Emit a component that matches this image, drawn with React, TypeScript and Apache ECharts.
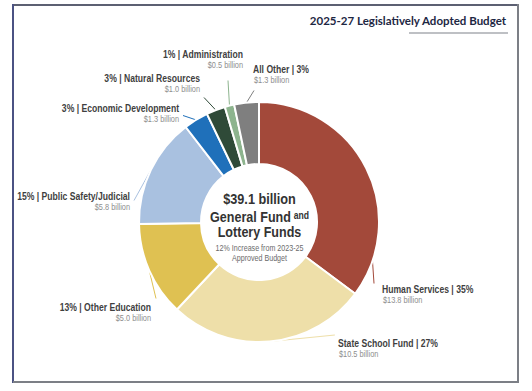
import React, { useEffect, useRef } from "react";
import * as echarts from "echarts";

const categories = [
  "Human Services",
  "State School Fund",
  "Other Education",
  "Public Safety/Judicial",
  "Economic Development",
  "Natural Resources",
  "Administration",
  "All Other",
];
const valuesBillion = [13.8, 10.5, 5.0, 5.8, 1.3, 1.0, 0.5, 1.3];
const percents = [35, 27, 13, 15, 3, 3, 1, 3];
const nameFirst = [true, true, false, false, false, false, false, true];

const titleText = "2025-27 Legislatively Adopted Budget";
const centerLines = ["$39.1 billion", "General Fund", "and", "Lottery Funds", "12% Increase from 2023-25", "Approved Budget"];

const COLORS = ["#A3493A", "#EEDFA9", "#DFC152", "#A9C1E0", "#1F70BA", "#2F4A38", "#8DB48E", "#7F7F7F"];
// label text anchor (x, centre y of bold line)
const LABEL_POS = [
  { x: 382, y: 289, align: "left" },
  { x: 338, y: 343, align: "left" },
  { x: 151, y: 307, align: "right" },
  { x: 130, y: 196, align: "right" },
  { x: 179, y: 108, align: "right" },
  { x: 200, y: 78, align: "right" },
  { x: 243, y: 54, align: "right" },
  { x: 253, y: 69, align: "left" },
];
// where each leader line ends
const LINE_END = [
  { x: 374, y: 284 },
  { x: 335, y: 335 },
  { x: 156, y: 299 },
  { x: 134, y: 201 },
  { x: 183, y: 115 },
  { x: 204, y: 97 },
  { x: 228, y: 80 },
  { x: 254, y: 90 },
];

const SANS = "'Liberation Sans', Arial, sans-serif";
const NARROW_SCALE = 0.82;

export default function App() {
  const ref = useRef<HTMLDivElement>(null);
  useEffect(() => {
    if (!ref.current) return;
    const chart = echarts.init(ref.current, null, { renderer: "svg" });
    const cx = 259.5;

    const labelGraphics: any[] = [];
    categories.forEach((c, i) => {
      const p = LABEL_POS[i];
      const head = nameFirst[i] ? `${c} | ${percents[i]}%` : `${percents[i]}% | ${c}`;
      labelGraphics.push({
        type: "text", x: p.x, y: p.y, scaleX: NARROW_SCALE, z: 100,
        style: { text: head, align: p.align, verticalAlign: "middle", font: `bold 10.5px ${SANS}`, fill: "#3f3f3f" },
      });
      labelGraphics.push({
        type: "text", x: p.x + (p.align === "left" ? 1 : 0), y: p.y + 11.5, scaleX: NARROW_SCALE, z: 100,
        style: { text: `$${valuesBillion[i].toFixed(1)} billion`, align: p.align, verticalAlign: "middle", font: `9px ${SANS}`, fill: "#8e8e8e" },
      });
    });

    const centerStyle = (size: number, bold: boolean, color: string) => ({
      align: "center", verticalAlign: "middle", font: `${bold ? "bold " : ""}${size}px ${SANS}`, fill: color,
    });

    chart.setOption({
      animation: false,
      backgroundColor: "#ffffff",
      graphic: [
        { type: "line", shape: { x1: 13, y1: 5, x2: 518, y2: 5 }, style: { stroke: "#5c6072", lineWidth: 2 } },
        { type: "line", shape: { x1: 13, y1: 4, x2: 13, y2: 383 }, style: { stroke: "#4b5283", lineWidth: 2 } },
        { type: "line", shape: { x1: 518, y1: 4, x2: 518, y2: 383 }, style: { stroke: "#7c7f86", lineWidth: 2 } },
        { type: "line", shape: { x1: 13, y1: 382, x2: 519, y2: 382 }, style: { stroke: "#7c7f86", lineWidth: 2 } },
        {
          type: "text", x: 506, y: 20, scaleX: 0.96, z: 100,
          style: { text: titleText, align: "right", verticalAlign: "middle", font: "bold 12px Lato, 'Open Sans', sans-serif", fill: "#1d2743" },
        },
        { type: "line", shape: { x1: 409, y1: 33, x2: 508, y2: 33 }, style: { stroke: "#a9abb0", lineWidth: 1.5 } },
        { type: "text", x: cx, y: 199, scaleX: NARROW_SCALE, z: 100, style: { text: centerLines[0], ...centerStyle(15.5, true, "#333333") } },
        {
          type: "text", x: cx, y: 216, scaleX: NARROW_SCALE, z: 100,
          style: {
            text: "{a|" + centerLines[1] + "} {c|" + centerLines[2] + "}",
            align: "center", verticalAlign: "middle",
            rich: {
              a: { font: `bold 15.3px ${SANS}`, fill: "#333333", verticalAlign: "bottom", height: 18 },
              c: { font: `bold 10.5px ${SANS}`, fill: "#333333", verticalAlign: "bottom", height: 18, padding: [0, 0, 2, 0] },
            },
          },
        },
        { type: "text", x: cx, y: 232, scaleX: NARROW_SCALE, z: 100, style: { text: centerLines[3], ...centerStyle(15.3, true, "#333333") } },
        { type: "text", x: cx, y: 248, scaleX: NARROW_SCALE, z: 100, style: { text: centerLines[4], ...centerStyle(8.7, false, "#6b6b6b") } },
        { type: "text", x: cx, y: 258.5, scaleX: NARROW_SCALE, z: 100, style: { text: centerLines[5], ...centerStyle(8.7, false, "#6b6b6b") } },
        ...labelGraphics,
      ],
      series: [
        {
          type: "pie",
          center: [259, 222],
          radius: [58, 120],
          startAngle: 90,
          clockwise: true,
          avoidLabelOverlap: false,
          itemStyle: { borderColor: "#ffffff", borderWidth: 2 },
          label: { show: true, formatter: " ", fontSize: 1, color: "transparent" },
          labelLine: { show: true, length: 4, length2: 0, lineStyle: { width: 1 } },
          labelLayout: (params: any) => {
            const p = LINE_END[params.dataIndex];
            return { x: p.x, y: p.y, align: "center", verticalAlign: "middle" };
          },
          data: categories.map((c, i) => ({
            name: c,
            value: valuesBillion[i],
            itemStyle: { color: COLORS[i] },
          })),
        },
      ],
    });
    return () => chart.dispose();
  }, []);
  return <div ref={ref} style={{ position: "fixed", left: 0, top: 0, width: 532, height: 391 }} />;
}
